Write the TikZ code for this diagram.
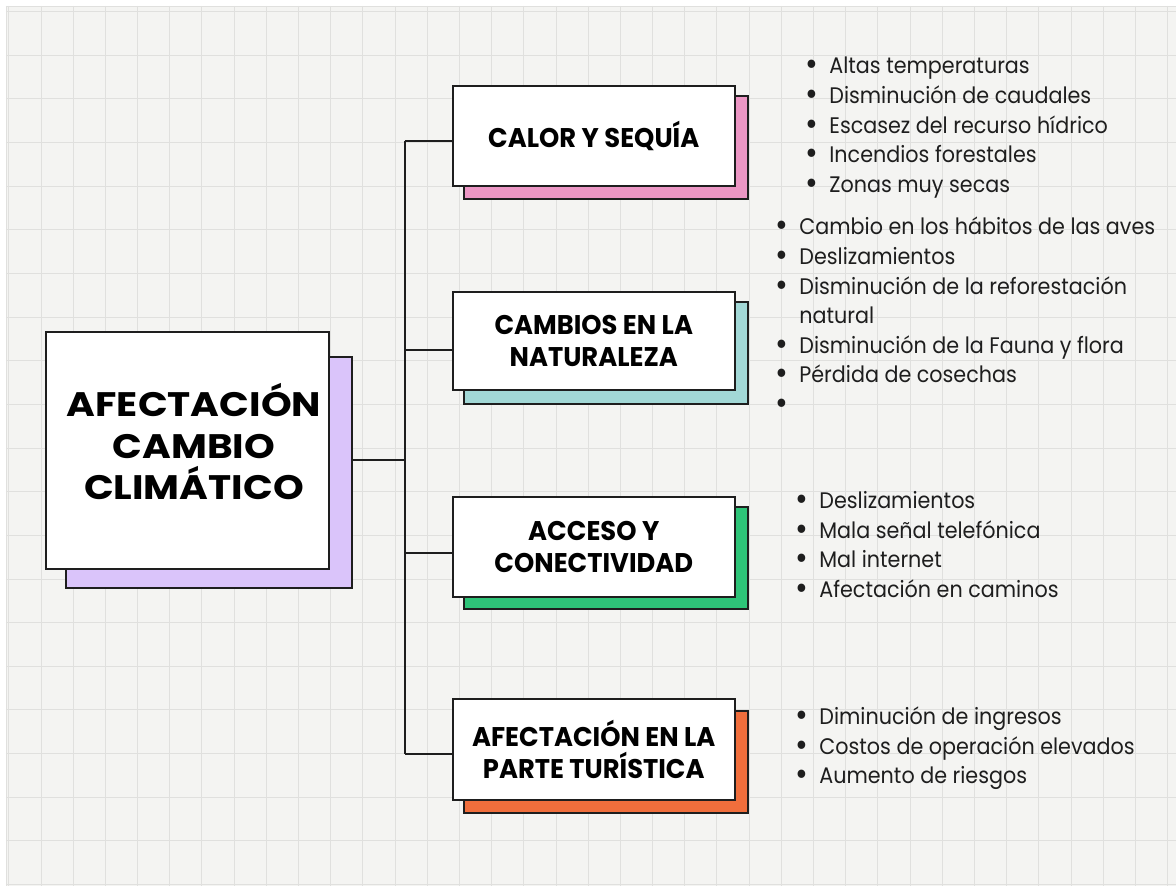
\documentclass[tikz,border=0pt]{standalone}
\usepackage{fontspec}
\newfontfamily\hfont{Poppins}[FakeStretch=0.955]
\newfontfamily\mfont{Poppins}[FakeStretch=1.15]
\newfontfamily\bfont{Poppins}[FakeStretch=0.92]
\definecolor{bgc}{HTML}{F4F4F2}
\definecolor{gridc}{HTML}{E0E0DE}
\definecolor{inkc}{HTML}{1E1E1E}
\definecolor{pinkc}{HTML}{EC96C4}
\definecolor{tealc}{HTML}{A2D8D6}
\definecolor{greenc}{HTML}{2EC478}
\definecolor{orangec}{HTML}{F06E3C}
\definecolor{lilac}{HTML}{DAC4FA}
\newcommand\bl{\makebox[0pt][c]{\raisebox{-2pt}{\scalebox{1.5}{\textbullet}}}\hspace{17.5pt}}
\pgfdeclarelayer{gridlayer}
\pgfdeclarelayer{backlayer}
\pgfsetlayers{gridlayer,backlayer,main}
\tikzset{
  gridline/.style={draw=gridc, line width=0.9pt},
  conn/.style={draw=inkc, line width=2.4pt},
  shadowbox/.style={draw=inkc, line width=2pt},
  cardbox/.style={draw=inkc, line width=2.4pt, fill=white, rectangle, inner sep=0pt,
    minimum width=282pt, align=center, text=black,
    font=\hfont\bfseries\fontsize{27}{32}\selectfont},
  mainbox/.style={draw=inkc, line width=2.4pt, fill=white, rectangle, inner sep=0pt,
    minimum width=283pt, minimum height=237pt},
  maintext/.style={align=center, inner sep=0pt, text=black,
    font=\mfont\bfseries\fontsize{34}{41.5}\selectfont},
  listtext/.style={anchor=base west, inner sep=0pt, text=inkc,
    font=\bfont\fontsize{22.5}{29.6}\selectfont}
}
\begin{document}
\begin{tikzpicture}[x=1pt,y=-1pt]
\begin{pgfonlayer}{gridlayer}
\fill[white] (0,0) rectangle (1176,886);
\fill[bgc] (6,6) rectangle (1176,886);
\foreach \i in {0,...,36} \draw[gridline] ({8.8+32.2*\i},6) -- ({8.8+32.2*\i},886);
\foreach \j in {-1,...,19} \draw[gridline] (6,{55+43.68*\j}) -- (1176,{55+43.68*\j});
\draw[gridline] (6,6) -- (1176,6);
\draw[gridline] (6,6) -- (6,886);
\end{pgfonlayer}
\useasboundingbox (0,0) rectangle (1176,886);

% boxes
\node[mainbox] (m) at (187.5,450.5) {};
\node[maintext] (mt) at (194,442) {AFECTACIÓN\\CAMBIO\\CLIMÁTICO};
\coordinate (j) at (405,460);
\coordinate (t1) at (405,141);
\coordinate (t2) at (405,350);
\coordinate (t3) at (405,553);
\coordinate (t4) at (405,754);
\node[cardbox, minimum height=100pt] (c1) at (594,136) {CALOR Y SEQUÍA};
\node[cardbox, minimum height=98pt] (c2) at (594,341) {CAMBIOS EN LA\\NATURALEZA};
\node[cardbox, minimum height=100pt] (c3) at (594,547) {ACCESO Y\\CONECTIVIDAD};
\node[cardbox, minimum height=101pt] (c4) at (594,749.5) {AFECTACIÓN EN LA\\PARTE TURÍSTICA};

\begin{pgfonlayer}{backlayer}
% connectors
\draw[conn] (m.east |- j) -- (j);
\draw[conn] (t1) -- (t4);
\draw[conn] (t1) -- (c1.west |- t1);
\draw[conn] (t2) -- (c2.west |- t2);
\draw[conn] (t3) -- (c3.west |- t3);
\draw[conn] (t4) -- (c4.west |- t4);
% shadows
\draw[shadowbox, fill=lilac] ([shift={(21,26)}]m.north west) rectangle ([shift={(22,18)}]m.south east);
\draw[shadowbox, fill=pinkc] ([shift={(12,11)}]c1.north west) rectangle ([shift={(12,12)}]c1.south east);
\draw[shadowbox, fill=tealc] ([shift={(12,11)}]c2.north west) rectangle ([shift={(12,13)}]c2.south east);
\draw[shadowbox, fill=greenc] ([shift={(12,11)}]c3.north west) rectangle ([shift={(12,11)}]c3.south east);
\draw[shadowbox, fill=orangec] ([shift={(12,13)}]c4.north west) rectangle ([shift={(12,12)}]c4.south east);
\end{pgfonlayer}

% lists
\node[listtext] (l1) at (812,74) {\begin{tabular}[t]{@{}l@{}}
\bl Altas temperaturas\\
\bl Disminución de caudales\\
\bl Escasez del recurso hídrico\\
\bl Incendios forestales\\
\bl Zonas muy secas
\end{tabular}};
\node[listtext] (l2) at (782,235) {\begin{tabular}[t]{@{}l@{}}
\bl Cambio en los hábitos de las aves\\
\bl Deslizamientos\\
\bl Disminución de la reforestación\\
\hspace{17.5pt}natural\\
\bl Disminución de la Fauna y flora\\
\bl Pérdida de cosechas\\
\bl
\end{tabular}};
\node[listtext] (l3) at (802,509) {\begin{tabular}[t]{@{}l@{}}
\bl Deslizamientos\\
\bl Mala señal telefónica\\
\bl Mal internet\\
\bl Afectación en caminos
\end{tabular}};
\node[listtext] (l4) at (802,725) {\begin{tabular}[t]{@{}l@{}}
\bl Diminución de ingresos\\
\bl Costos de operación elevados\\
\bl Aumento de riesgos
\end{tabular}};
\end{tikzpicture}
\end{document}
